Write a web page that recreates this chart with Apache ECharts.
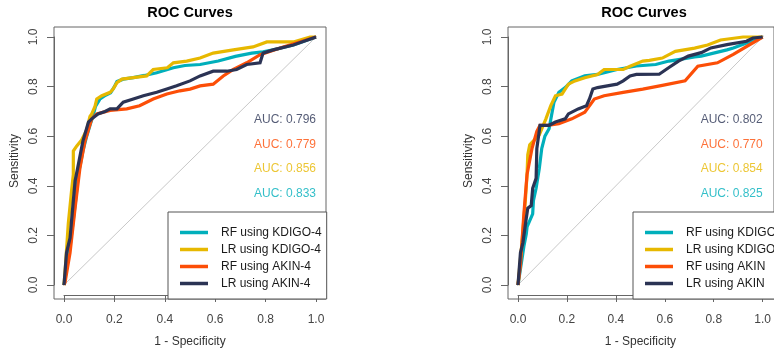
<!DOCTYPE html>
<html>
<head>
<meta charset="utf-8">
<title>ROC Curves</title>
<script src="https://cdn.jsdelivr.net/npm/echarts@6/dist/echarts.min.js"></script>
<style>
  html, body { margin: 0; padding: 0; background: #fff; }
  #chart { width: 774px; height: 353px; }
</style>
</head>
<body>
<div id="chart"></div>
<script>
// ROC points as [1 - specificity, sensitivity]
// Panel 1: KDIGO-4 vs AKIN-4
const rfKdigo4 = [[0,0],[0.024,0.155],[0.045,0.33],[0.057,0.446],[0.075,0.54],[0.09,0.6],[0.105,0.65],[0.116,0.684],[0.125,0.72],[0.143,0.75],[0.165,0.765],[0.185,0.775],[0.2,0.8],[0.21,0.82],[0.235,0.83],[0.275,0.836],[0.32,0.845],[0.368,0.856],[0.434,0.876],[0.48,0.885],[0.54,0.889],[0.612,0.903],[0.68,0.922],[0.745,0.935],[0.79,0.94],[0.83,0.948],[0.91,0.968],[1,1]];
const lrKdigo4 = [[0,0],[0.004,0.05],[0.017,0.247],[0.03,0.38],[0.037,0.446],[0.037,0.54],[0.05,0.56],[0.07,0.585],[0.09,0.625],[0.103,0.68],[0.11,0.69],[0.123,0.72],[0.13,0.75],[0.15,0.763],[0.183,0.777],[0.195,0.79],[0.21,0.816],[0.23,0.83],[0.275,0.836],[0.328,0.843],[0.354,0.869],[0.41,0.876],[0.434,0.896],[0.487,0.903],[0.54,0.915],[0.592,0.935],[0.672,0.948],[0.75,0.96],[0.805,0.98],[0.91,0.98],[0.976,1],[1,1]];
const rfAkin4 = [[0,0],[0.004,0.01],[0.024,0.13],[0.044,0.31],[0.063,0.47],[0.083,0.58],[0.11,0.67],[0.13,0.69],[0.183,0.704],[0.249,0.71],[0.3,0.723],[0.354,0.75],[0.408,0.77],[0.46,0.783],[0.5,0.79],[0.54,0.803],[0.592,0.81],[0.632,0.843],[0.672,0.869],[0.725,0.896],[0.778,0.929],[0.87,0.96],[1,1]];
const lrAkin4 = [[0,0],[0.01,0.13],[0.024,0.19],[0.044,0.42],[0.054,0.47],[0.075,0.58],[0.097,0.657],[0.11,0.67],[0.135,0.69],[0.163,0.7],[0.183,0.71],[0.21,0.71],[0.235,0.737],[0.275,0.75],[0.315,0.763],[0.368,0.777],[0.408,0.79],[0.447,0.803],[0.5,0.823],[0.54,0.843],[0.592,0.862],[0.646,0.862],[0.685,0.869],[0.725,0.889],[0.778,0.896],[0.79,0.935],[0.83,0.948],[0.91,0.968],[1,1]];

// Panel 2: KDIGO vs AKIN
const rfKdigo = [[0,0],[0.024,0.155],[0.034,0.207],[0.037,0.234],[0.06,0.287],[0.063,0.34],[0.074,0.39],[0.087,0.47],[0.097,0.55],[0.11,0.6],[0.127,0.63],[0.147,0.737],[0.167,0.777],[0.193,0.796],[0.22,0.823],[0.273,0.843],[0.325,0.849],[0.405,0.869],[0.484,0.883],[0.563,0.889],[0.617,0.903],[0.656,0.909],[0.722,0.92],[0.749,0.923],[0.854,0.948],[0.88,0.956],[1,1]];
const lrKdigo = [[0,0],[0.017,0.18],[0.03,0.34],[0.037,0.446],[0.04,0.525],[0.048,0.565],[0.067,0.585],[0.087,0.605],[0.114,0.67],[0.134,0.723],[0.153,0.763],[0.18,0.77],[0.206,0.81],[0.233,0.823],[0.273,0.836],[0.325,0.849],[0.352,0.869],[0.43,0.869],[0.458,0.882],[0.51,0.903],[0.537,0.906],[0.59,0.915],[0.643,0.942],[0.722,0.955],[0.775,0.968],[0.828,0.988],[0.92,1],[1,1]];
const rfAkin = [[0,0],[0.01,0.08],[0.024,0.287],[0.037,0.446],[0.057,0.55],[0.077,0.62],[0.09,0.644],[0.127,0.645],[0.167,0.65],[0.22,0.67],[0.273,0.697],[0.312,0.75],[0.352,0.763],[0.43,0.777],[0.51,0.79],[0.59,0.805],[0.683,0.823],[0.735,0.882],[0.815,0.896],[0.88,0.93],[1,1]];
const lrAkin = [[0,0],[0.01,0.13],[0.02,0.17],[0.034,0.27],[0.04,0.31],[0.054,0.32],[0.06,0.39],[0.074,0.43],[0.077,0.55],[0.09,0.644],[0.127,0.644],[0.153,0.657],[0.193,0.67],[0.206,0.69],[0.246,0.71],[0.28,0.723],[0.292,0.75],[0.306,0.79],[0.325,0.796],[0.365,0.803],[0.405,0.81],[0.43,0.823],[0.458,0.843],[0.484,0.849],[0.577,0.85],[0.617,0.877],[0.656,0.903],[0.696,0.923],[0.749,0.937],[0.788,0.956],[0.854,0.969],[0.934,0.983],[0.96,0.996],[1,1]];

const namesLeft = ['RF using KDIGO-4', 'LR using KDIGO-4', 'RF using AKIN-4', 'LR using AKIN-4'];
const namesRight = ['RF using KDIGO', 'LR using KDIGO', 'RF using AKIN', 'LR using AKIN'];
const colors = ['#00AFBB', '#E7B800', '#FC4E07', '#2B3354'];

// AUC values, listed top to bottom as printed: LR AKIN, RF AKIN, LR KDIGO, RF KDIGO
const aucLeft = [0.796, 0.779, 0.856, 0.833];
const aucRight = [0.802, 0.770, 0.854, 0.825];
const aucColors = ['#2B3354', '#FC4E07', '#E7B800', '#00AFBB'];
const aucY = [0.667, 0.567, 0.467, 0.367];

const FONT = "'Liberation Sans', Arial, sans-serif";
const FRAME = '#666';
// the frame box reaches 4% beyond the 0..1 data range on every side
const PAD = 0.04;

// Plot area: inner grid spans 0..1 exactly; the frame grid around it carries the box.
function frameGrid(left) {
  return { left: left - 10, top: 27, width: 272, height: 272, show: true,
    borderColor: FRAME, borderWidth: 1, backgroundColor: 'transparent' };
}
function plotGrid(left) {
  return { left, top: 37, width: 252, height: 252, show: false };
}
function hiddenAxis(gridIndex) {
  return { type: 'value', gridIndex, show: false, min: 0, max: 1 };
}
function xAxisCfg(gridIndex) {
  return {
    type: 'value', gridIndex, min: 0, max: 1, interval: 0.2, offset: 10,
    name: '1 - Specificity', nameLocation: 'middle', nameGap: 41,
    nameTextStyle: { fontFamily: FONT, fontSize: 12, color: '#333' },
    axisLine: { show: true, onZero: false, lineStyle: { color: FRAME, width: 1 } },
    splitLine: { show: false },
    axisTick: { show: true, inside: false, length: 7, lineStyle: { color: FRAME } },
    axisLabel: { margin: 19, fontFamily: FONT, fontSize: 12, color: '#444',
      formatter: v => v.toFixed(1) }
  };
}
function yAxisCfg(gridIndex) {
  return {
    type: 'value', gridIndex, min: 0, max: 1, interval: 0.2, offset: 10,
    name: 'Sensitivity', nameLocation: 'middle', nameGap: 33, nameRotate: 90,
    nameTextStyle: { fontFamily: FONT, fontSize: 12, color: '#333' },
    axisLine: { show: true, onZero: false, lineStyle: { color: FRAME, width: 1 } },
    splitLine: { show: false },
    axisTick: { show: true, inside: false, length: 7, lineStyle: { color: FRAME } },
    axisLabel: { margin: 14, rotate: 90, fontFamily: FONT, fontSize: 12, color: '#444',
      formatter: v => v.toFixed(1) }
  };
}
function rocSeries(name, data, color, idx) {
  return {
    name, type: 'line', data, xAxisIndex: idx, yAxisIndex: idx,
    showSymbol: false, symbol: 'none', color, clip: false,
    lineStyle: { width: 3.2, color, join: 'miter' },
    animation: false, silent: true, z: 3
  };
}
function diagonal(idx) {
  return {
    type: 'line', xAxisIndex: idx, yAxisIndex: idx, data: [[-PAD, -PAD], [1 + PAD, 1 + PAD]],
    symbol: 'none', clip: false, lineStyle: { width: 1, color: '#c8c8c8' }, silent: true, animation: false, z: 2
  };
}
function aucSeries(values, idx) {
  return {
    type: 'scatter', xAxisIndex: idx, yAxisIndex: idx, symbolSize: 0, silent: true, animation: false, clip: false,
    data: values.map((v, i) => ({
      value: [1.0, aucY[i]],
      label: { show: true, position: 'left', distance: 0, formatter: 'AUC: ' + v.toFixed(3),
        color: aucColors[i], fontFamily: FONT, fontSize: 12 }
    }))
  };
}
function legendCfg(names, left) {
  return {
    data: names, orient: 'vertical', left, top: 212,
    icon: 'rect', itemWidth: 28, itemHeight: 3.5, itemGap: 4,
    padding: [14, 5, 9, 12],
    backgroundColor: '#fff', borderColor: '#555', borderWidth: 1, borderRadius: 0,
    selectedMode: false,
    textStyle: { fontFamily: FONT, fontSize: 12, color: '#1a1a1a', lineHeight: 13, padding: [0, 0, 0, 8] }
  };
}

const chart = echarts.init(document.getElementById('chart'), null, { renderer: 'canvas' });
const curvesLeft = [rfKdigo4, lrKdigo4, rfAkin4, lrAkin4];
const curvesRight = [rfKdigo, lrKdigo, rfAkin, lrAkin];

chart.setOption({
  animation: false,
  backgroundColor: '#fff',
  // grids: 0 = left frame, 1 = left plot, 2 = right frame, 3 = right plot
  grid: [frameGrid(64), plotGrid(64), frameGrid(518), plotGrid(518)],
  xAxis: [hiddenAxis(0), xAxisCfg(1), hiddenAxis(2), xAxisCfg(3)],
  yAxis: [hiddenAxis(0), yAxisCfg(1), hiddenAxis(2), yAxisCfg(3)],
  legend: [legendCfg(namesLeft, 168), legendCfg(namesRight, 633)],
  graphic: [
    { type: 'text', x: 190, y: 13, style: { text: 'ROC Curves', align: 'center', verticalAlign: 'middle',
      font: "bold 14.5px 'Liberation Sans', Arial, sans-serif", fill: '#000' } },
    { type: 'text', x: 644, y: 13, style: { text: 'ROC Curves', align: 'center', verticalAlign: 'middle',
      font: "bold 14.5px 'Liberation Sans', Arial, sans-serif", fill: '#000' } }
  ],
  series: [
    diagonal(1), diagonal(3),
    ...curvesLeft.map((d, i) => rocSeries(namesLeft[i], d, colors[i], 1)),
    ...curvesRight.map((d, i) => rocSeries(namesRight[i], d, colors[i], 3)),
    aucSeries(aucLeft, 1), aucSeries(aucRight, 3)
  ]
});
</script>
</body>
</html>
